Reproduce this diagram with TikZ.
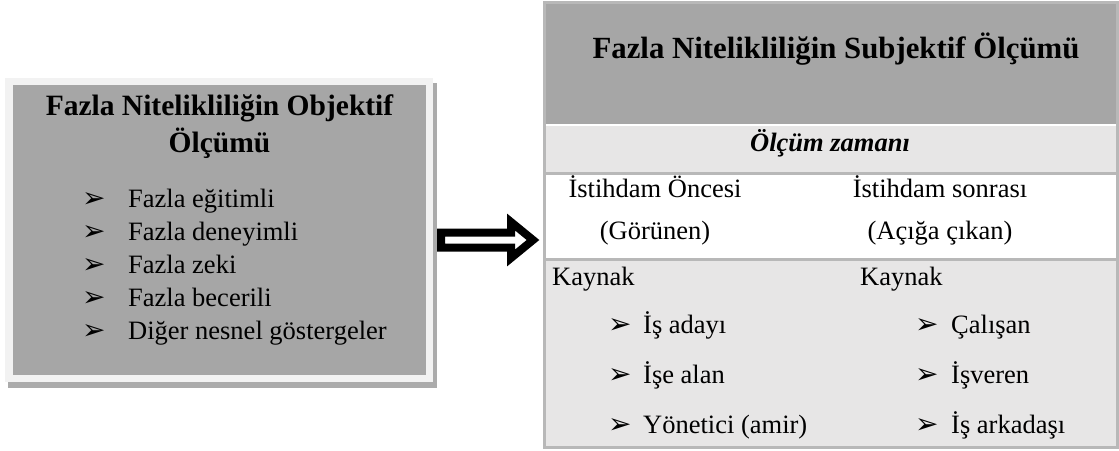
\documentclass[tikz,border=0pt]{standalone}
\usepackage{fontspec}
\usetikzlibrary{calc}
\setmainfont{Liberation Serif}
\newfontfamily\symfont{DejaVu Sans}
\definecolor{boxgray}{HTML}{A6A6A6}
\definecolor{framelight}{HTML}{F2F2F2}
\definecolor{shadowgray}{HTML}{ABABAB}
\definecolor{bordergray}{HTML}{B8B8B8}
\definecolor{bandgray}{HTML}{E7E6E6}
\tikzset{
  body/.style={font=\fontsize{26.5}{32}\selectfont, inner sep=0pt},
  ttl/.style={font=\bfseries\fontsize{29.5}{37}\selectfont, inner sep=0pt},
  bigttl/.style={font=\bfseries\fontsize{30.8}{37}\selectfont, inner sep=0pt},
  sub/.style={font=\bfseries\itshape\fontsize{26.5}{32}\selectfont, inner sep=0pt},
  bul/.style={font=\symfont\fontsize{28}{28}\selectfont, inner sep=0pt},
  panel/.style={inner sep=0pt, outer sep=0pt, anchor=north west},
}
\begin{document}
\begin{tikzpicture}[x=1pt,y=-1pt]
\useasboundingbox (0,0) rectangle (1119,450);

% objective measurement box with frame and shadow
\fill[shadowgray] (8,83) rectangle (437,388);
\fill[framelight] (5,78) rectangle (433,382);
\node[panel, fill=boxgray, minimum width=413pt, minimum height=290pt] (obj) at (13,85) {};
\node[ttl, anchor=mid] (objt1) at (219.5,113) {Fazla Nitelikliliğin Objektif};
\node[ttl, anchor=mid] (objt2) at (219.5,150) {Ölçümü};
\foreach \y/\t [count=\i] in {205/Fazla eğitimli, 238/Fazla deneyimli, 271/Fazla zeki, 304/Fazla becerili, 337/Diğer nesnel göstergeler}{
  \node[bul, anchor=mid west] (ob\i) at (82,\y) {➢};
  \node[body, anchor=mid west] (ot\i) at (128,\y) {\t};
}

% subjective measurement box
\node[panel, fill=bandgray, minimum width=573pt, minimum height=445pt] (subj) at (544,2) {};
\fill[boxgray] (subj.north west) rectangle (1117,124);
\fill[white] (544,173) rectangle (1117,259);
\draw[white, line width=2pt] (544,125) -- (1117,125);
\draw[bordergray, line width=3pt] (544,173.5) -- (1117,173.5);
\draw[bordergray, line width=3pt] (544,259.5) -- (1117,259.5);
\draw[bordergray, line width=3pt] (subj.north west) rectangle (subj.south east);

\node[bigttl, anchor=mid] (subjt) at (836,56) {Fazla Nitelikliliğin Subjektif Ölçümü};
\node[sub, anchor=mid] (zaman) at (830,149) {Ölçüm zamanı};
\node[body, anchor=mid] (once) at (655,195) {İstihdam Öncesi};
\node[body, anchor=mid] (gor) at (655,237) {(Görünen)};
\node[body, anchor=mid] (sonra) at (940,195) {İstihdam sonrası};
\node[body, anchor=mid] (acig) at (940,237) {(Açığa çıkan)};
\node[body, anchor=mid west] (kay1) at (552,283) {Kaynak};
\node[body, anchor=mid west] (kay2) at (860,283) {Kaynak};
\foreach \y/\a/\b [count=\i] in {331/İş adayı/Çalışan, 381/İşe alan/İşveren, 431/Yönetici (amir)/İş arkadaşı}{
  \node[bul, anchor=mid west] (lb\i) at (608,\y) {➢};
  \node[body, anchor=mid west] (lt\i) at (643,\y) {\a};
  \node[bul, anchor=mid west] (rb\i) at (915,\y) {➢};
  \node[body, anchor=mid west] (rt\i) at (951,\y) {\b};
}

% block arrow from the objective box to the subjective box
\draw[line width=8pt, fill=white, miter limit=10]
  ($(obj.east)+(15,2.5)$) coordinate (a1) -- ++(70,0) -- ++(0,-10.5) -- ++(22,18)
  -- ++(-22,18) -- ++(0,-10.5) -- ++(-70,0) -- cycle;
\end{tikzpicture}
\end{document}
